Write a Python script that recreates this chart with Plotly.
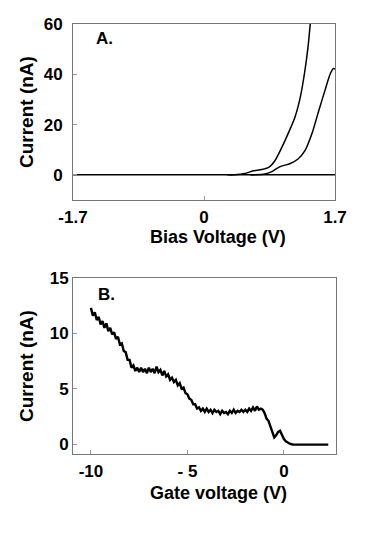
import plotly.graph_objects as go

# Panel A: bias sweeps
bias_flat_v = [-1.7, -1.2, 0.0, 1.7]
bias_flat_i = [0.0, 0.0, 0.0, 0.0]

bias_up_v = [0.30, 0.40, 0.53, 0.64, 0.75, 0.85, 0.92, 1.01, 1.09, 1.18, 1.25, 1.31, 1.35, 1.38]
bias_up_i = [0.0, 0.0, 0.5, 1.6, 2.1, 3.2, 5.6, 10.9, 16.3, 22.9, 30.9, 41.6, 50.9, 60.5]

bias_lo_v = [0.60, 0.66, 0.79, 0.88, 0.98, 1.12, 1.22, 1.31, 1.40, 1.49, 1.57, 1.64, 1.68, 1.70]
bias_lo_i = [0.0, 0.0, 0.3, 1.3, 3.2, 4.5, 6.3, 9.6, 16.3, 25.6, 33.6, 40.3, 42.3, 42.0]

# Panel B: gate sweep
gate_v = [-10.0, -9.9, -9.8, -9.7, -9.6, -9.5, -9.4, -9.3, -9.2, -9.1,
          -9.0, -8.9, -8.8, -8.7, -8.6, -8.5, -8.4, -8.3, -8.2, -8.1,
          -8.0, -7.9, -7.8, -7.7, -7.6, -7.5, -7.4, -7.3, -7.2, -7.1,
          -7.0, -6.9, -6.8, -6.7, -6.6, -6.5, -6.4, -6.3, -6.2, -6.1,
          -6.0, -5.9, -5.8, -5.7, -5.6, -5.5, -5.4, -5.3, -5.2, -5.1,
          -5.0, -4.9, -4.8, -4.7, -4.6, -4.5, -4.4, -4.3, -4.2, -4.1,
          -4.0, -3.9, -3.8, -3.7, -3.6, -3.5, -3.4, -3.3, -3.2, -3.1,
          -3.0, -2.9, -2.8, -2.7, -2.6, -2.5, -2.4, -2.3, -2.2, -2.1,
          -2.0, -1.9, -1.8, -1.7, -1.6, -1.5, -1.4, -1.3, -1.2, -1.1,
          -1.0, -0.9, -0.8, -0.7, -0.6, -0.5, -0.4, -0.3, -0.2, -0.1,
          0.0, 0.1, 0.2, 0.3, 0.4, 0.5, 1.0, 1.5, 2.0, 2.3]
gate_i = [12.3, 11.6, 11.9, 11.2, 11.5, 10.8, 11.1, 10.5, 10.9, 10.2,
          10.5, 9.9, 10.1, 9.5, 9.7, 9.0, 9.1, 8.4, 8.3, 7.6,
          7.6, 6.9, 7.1, 6.6, 6.9, 6.5, 6.9, 6.5, 6.8, 6.4,
          6.9, 6.5, 6.8, 6.4, 7.0, 6.5, 6.7, 6.2, 6.6, 6.1,
          6.3, 5.8, 6.0, 5.6, 5.8, 5.3, 5.5, 5.0, 5.1, 4.6,
          4.5, 4.1, 4.0, 3.6, 3.6, 3.2, 3.3, 3.0, 3.2, 2.9,
          3.2, 2.9, 3.1, 2.8, 3.1, 2.9, 3.0, 2.7, 3.0, 2.8,
          2.9, 2.7, 3.0, 2.8, 3.1, 2.8, 3.0, 2.9, 3.1, 2.9,
          3.1, 2.9, 3.2, 3.0, 3.3, 3.0, 3.4, 3.1, 3.2, 3.1,
          2.8, 2.3, 2.1, 1.6, 1.0, 0.6, 0.8, 1.1, 1.2, 0.8,
          0.45, 0.25, 0.1, 0.03, -0.02, -0.05, -0.05, -0.05, -0.05, -0.05]

# page has an 8px body margin, so the figure is a bit smaller and offset
OFF = 8
W, H = 382 - OFF, 539 - OFF
def px(x):
    return (x - OFF) / W
def py(y):
    return 1 - (y - OFF) / H

font = dict(family="Liberation Sans", size=17, color="black", weight="bold")

fig = go.Figure()
fig.add_trace(go.Scatter(x=bias_flat_v, y=bias_flat_i, mode="lines",
                         line=dict(color="black", width=1.5), xaxis="x", yaxis="y"))
fig.add_trace(go.Scatter(x=bias_up_v, y=bias_up_i, mode="lines",
                         line=dict(color="black", width=1.5, shape="spline", smoothing=0.8),
                         xaxis="x", yaxis="y"))
fig.add_trace(go.Scatter(x=bias_lo_v, y=bias_lo_i, mode="lines",
                         line=dict(color="black", width=1.5, shape="spline", smoothing=0.8),
                         xaxis="x", yaxis="y"))
fig.add_trace(go.Scatter(x=gate_v, y=gate_i, mode="lines",
                         line=dict(color="black", width=2.4), xaxis="x2", yaxis="y2"))

ax = dict(showline=True, mirror=True, linecolor="#777", linewidth=1, showgrid=False,
          zeroline=False, ticks="inside", ticklen=4, tickcolor="#999", tickfont=font,
          automargin=False)
fig.update_layout(
    width=W, height=H, margin=dict(l=0, r=0, t=0, b=0, pad=0, autoexpand=False),
    paper_bgcolor="white", plot_bgcolor="white", showlegend=False,
    xaxis=dict(ax, domain=[px(73), px(335)], anchor="y", range=[-1.7, 1.7],
               tickvals=[-1.7, 0, 1.7], ticktext=["-1.7", "0", "1.7"], ticklabelstandoff=2),
    yaxis=dict(ax, domain=[py(200), py(24)], anchor="x", range=[-10, 60],
               tickvals=[0, 20, 40, 60], ticklabelstandoff=6),
    xaxis2=dict(ax, domain=[px(73), px(336)], anchor="y2", range=[-10.93, 2.7],
                tickvals=[-10, -5, 0], ticktext=["-10", "- 5", "0"], ticklabelstandoff=2),
    yaxis2=dict(ax, domain=[py(454), py(278)], anchor="x2", range=[-0.9, 15],
                tickvals=[0, 5, 10, 15], ticklabelstandoff=0),
)

def label(text, x, y, size=18, angle=0, xanchor="center"):
    fig.add_annotation(text=text, x=px(x), y=py(y), xref="paper", yref="paper",
                       showarrow=False, textangle=angle, xanchor=xanchor, yanchor="middle",
                       font=dict(family="Liberation Sans", size=size, color="black", weight="bold"))

label("Current (nA)", 26, 112, size=19, angle=-90)
label("Bias Voltage (V)", 218, 237)
label("A.", 94, 38, size=17, xanchor="left")
label("Current (nA)", 26, 366, size=19, angle=-90)
label("Gate voltage (V)", 218, 493)
label("B.", 96, 294, size=17, xanchor="left")

fig.write_html("out.html")
